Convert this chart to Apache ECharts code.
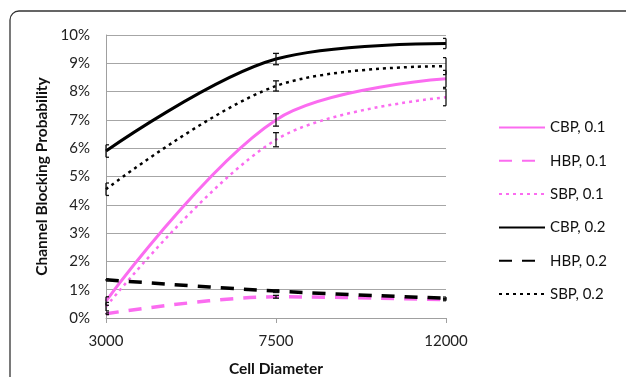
<!DOCTYPE html>
<html>
<head>
<meta charset="utf-8">
<script src="https://cdn.jsdelivr.net/npm/echarts@6/dist/echarts.min.js"></script>
<style>
html, body { margin: 0; padding: 0; background: #fff; }
#chart { width: 626px; height: 377px; }
</style>
</head>
<body>
<div id="chart"></div>
<script>
// x categories and y ticks
var cellDiameter = ['3000', '7500', '12000'];
var yTicks = [0, 1, 2, 3, 4, 5, 6, 7, 8, 9, 10];

// blocking probability in %
var cbp01 = [0.6, 7.0, 8.45];
var hbp01 = [0.15, 0.75, 0.65];
var sbp01 = [0.4, 6.3, 7.8];
var cbp02 = [5.9, 9.15, 9.7];
var hbp02 = [1.35, 0.95, 0.7];
var sbp02 = [4.55, 8.2, 8.9];

// error bar half-heights in %
var errCbp01 = [0.15, 0.22, 0.3];
var errSbp01 = [0.15, 0.25, 0.3];
var errCbp02 = [0.22, 0.2, 0.18];
var errSbp02 = [0.22, 0.18, 0.3];
var errHbp01 = [0.03, 0.05, 0.04];
var errHbp02 = [0.03, 0.05, 0.04];

var pink = '#fb6cf0';
var fontFam = 'Lato, "Open Sans", sans-serif';

var chart = echarts.init(document.getElementById('chart'));

function errData(vals, errs) {
	return vals.map(function (v, i) { return [i, v, errs[i]]; });
}

// error bar, caps cut at the plot edges like the original
function renderErr(params, api) {
	var x = api.value(0), y = api.value(1), e = api.value(2);
	var hi = api.coord([x, y + e]);
	var lo = api.coord([x, y - e]);
	var cs = params.coordSys;
	var left = cs.x, right = cs.x + cs.width;
	var w = 3;
	var x1 = Math.max(hi[0] - w, left), x2 = Math.min(hi[0] + w, right);
	var st = { stroke: '#111', lineWidth: 1.3 };
	return {
		type: 'group',
		children: [
			{ type: 'line', shape: { x1: hi[0], y1: hi[1], x2: lo[0], y2: lo[1] }, style: st },
			{ type: 'line', shape: { x1: x1, y1: hi[1], x2: x2, y2: hi[1] }, style: st },
			{ type: 'line', shape: { x1: x1, y1: lo[1], x2: x2, y2: lo[1] }, style: st }
		]
	};
}

function lineSeries(name, data, color, type, width) {
	return {
		name: name,
		type: 'line',
		data: data,
		smooth: 0.35,
		symbol: 'none',
		lineStyle: { color: color, width: width, type: type, cap: 'butt' },
		itemStyle: { color: color },
		z: 3
	};
}

function errSeries(vals, errs) {
	return {
		type: 'custom',
		renderItem: renderErr,
		data: errData(vals, errs),
		silent: true,
		z: 4
	};
}

var names = ['CBP, 0.1', 'HBP, 0.1', 'SBP, 0.1', 'CBP, 0.2', 'HBP, 0.2', 'SBP, 0.2'];

var option = {
	animation: false,
	backgroundColor: '#fff',
	graphic: [{
		type: 'rect',
		shape: { x: 10, y: 11, width: 700, height: 500, r: 9 },
		style: { fill: 'none', stroke: '#333', lineWidth: 1.3 },
		silent: true
	}],
	grid: { left: 106, right: 180, top: 35, bottom: 59, outerBoundsMode: 'none' },
	legend: {
		data: names,
		orient: 'vertical',
		left: 493,
		top: 115,
		itemWidth: 46,
		itemHeight: 14,
		itemGap: 18.3,
		itemStyle: { opacity: 0 },
		textStyle: { fontFamily: fontFam, fontSize: 15, color: '#111' }
	},
	xAxis: {
		type: 'category',
		data: cellDiameter,
		boundaryGap: false,
		name: 'Cell Diameter',
		nameLocation: 'middle',
		nameGap: 43,
		nameTextStyle: { fontFamily: fontFam, fontSize: 15.5, fontWeight: 'bold', color: '#111' },
		axisLine: { lineStyle: { color: '#a0a0a0', width: 1 } },
		axisTick: { show: true, length: 5, lineStyle: { color: '#a0a0a0' } },
		axisLabel: { margin: 16, fontFamily: fontFam, fontSize: 15, color: '#222' },
		splitLine: { show: false }
	},
	yAxis: {
		type: 'value',
		min: yTicks[0],
		max: yTicks[yTicks.length - 1],
		interval: 1,
		name: 'Channel Blocking Probability',
		nameLocation: 'middle',
		nameGap: 56,
		nameTextStyle: { fontFamily: fontFam, fontSize: 15.5, fontWeight: 'bold', color: '#111' },
		axisLine: { show: true, lineStyle: { color: '#a0a0a0', width: 1 } },
		axisTick: { show: false },
		axisLabel: { margin: 16, fontFamily: fontFam, fontSize: 15, color: '#222', formatter: '{value}%' },
		splitLine: { lineStyle: { color: '#a6a6a6', width: 1 } }
	},
	series: [
		lineSeries(names[0], cbp01, pink, 'solid', 3),
		lineSeries(names[1], hbp01, pink, [13, 10], 3.5),
		lineSeries(names[2], sbp01, pink, [3, 4], 2.5),
		lineSeries(names[3], cbp02, '#000', 'solid', 3),
		lineSeries(names[4], hbp02, '#000', [13, 10], 3.5),
		lineSeries(names[5], sbp02, '#000', [3, 4], 2.5),
		errSeries(cbp01, errCbp01),
		errSeries(hbp01, errHbp01),
		errSeries(sbp01, errSbp01),
		errSeries(cbp02, errCbp02),
		errSeries(hbp02, errHbp02),
		errSeries(sbp02, errSbp02)
	]
};

chart.setOption(option);
</script>
</body>
</html>
